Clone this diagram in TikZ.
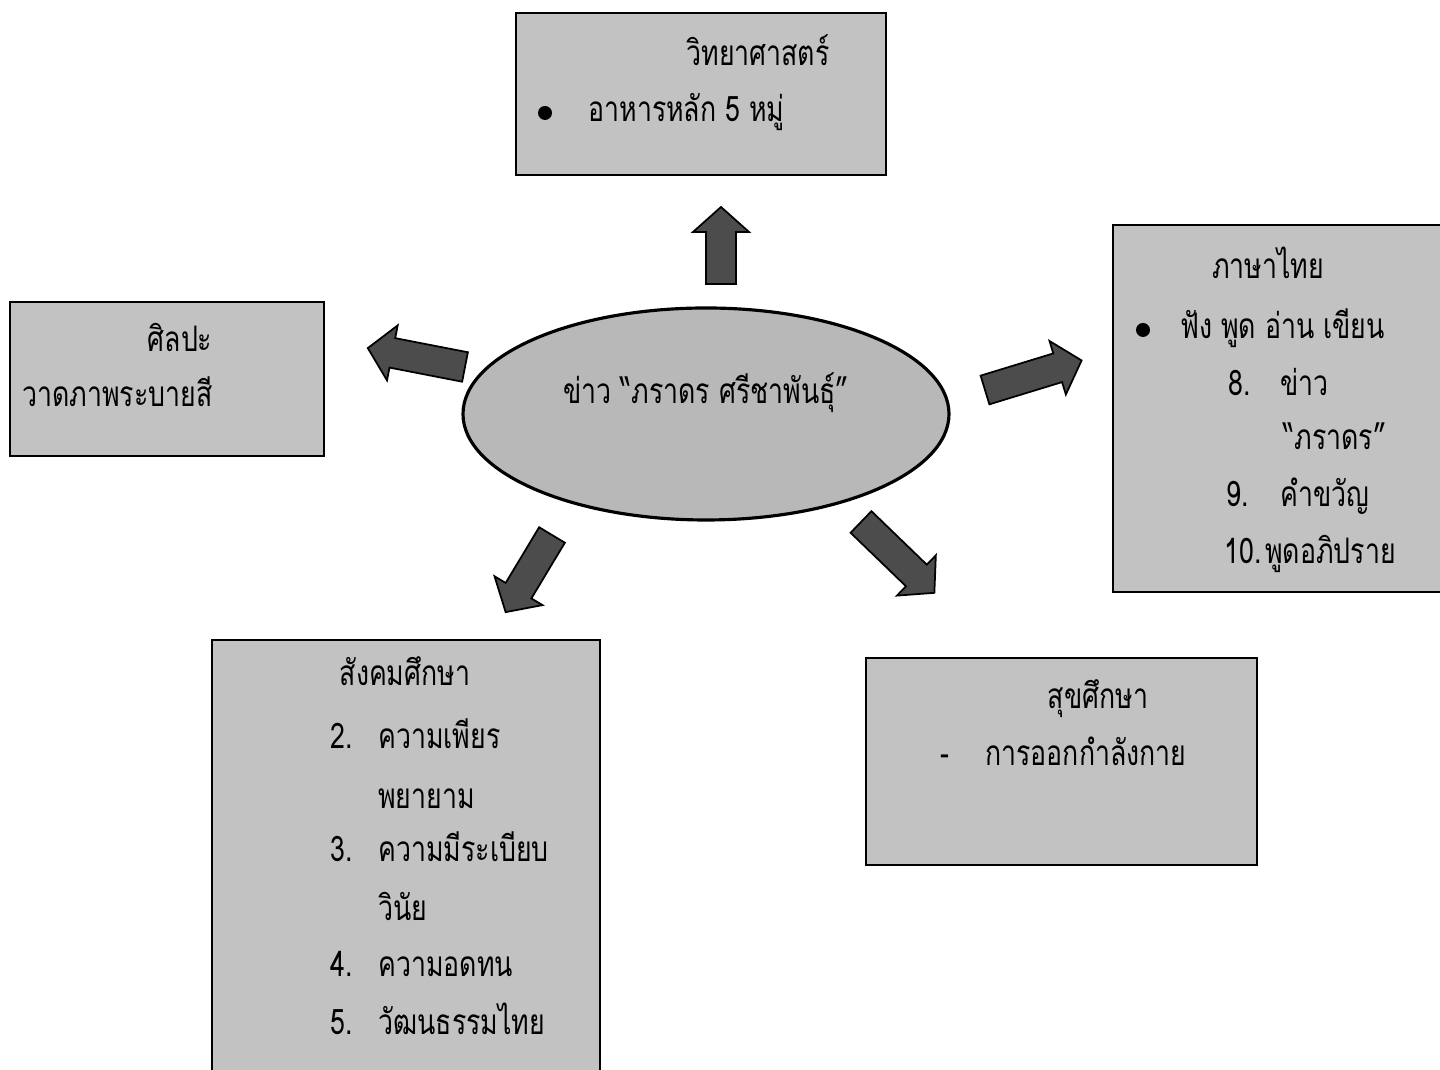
\documentclass[tikz,border=0pt]{standalone}
\usepackage{fontspec}
\newfontfamily\thaifont[Script=Thai, FakeStretch=0.76]{Loma}
\usepackage{tikz}
\usetikzlibrary{shapes.geometric}
\definecolor{boxgray}{gray}{0.76}
\definecolor{arrowgray}{gray}{0.30}

\tikzset{
  box/.style={draw, line width=0.8pt, fill=boxgray},
  txt/.style={font=\thaifont\fontsize{20}{24}\selectfont, inner sep=0pt, anchor=base west},
  title/.style={txt, anchor=base},
  dotmark/.style={circle, fill=black, inner sep=0pt, minimum size=0.28cm},
  pics/fatarrow/.style={code={
    \filldraw[fill=arrowgray, draw=black, line width=1pt]
      (0,-0.3) -- (#1-0.5,-0.3) -- (#1-0.5,-0.56) -- (#1,0)
      -- (#1-0.5,0.56) -- (#1-0.5,0.3) -- (0,0.3) -- cycle;
  }}
}

\begin{document}
\begin{tikzpicture}
    \clip (0,0) rectangle (28.8,21.4);
    \fill[white] (0,0) rectangle (28.8,21.4);

    % boxes
    \draw[box] (10.32,17.90) rectangle (17.72,21.14);
    \draw[box] (0.20,12.28) rectangle (6.48,15.36);
    \draw[box] (22.26,9.56) rectangle (29.2,16.90);
    \draw[box] (4.24,-0.3) rectangle (12.00,8.60);
    \draw[box] (17.32,4.10) rectangle (25.14,8.24);
    \node[ellipse, draw, line width=1.8pt, fill=boxgray!95!black,
      minimum width=9.72cm, minimum height=4.24cm] (news) at (14.12,13.12) {};

    % arrows
    \pic[rotate=90] at (14.42,15.72) {fatarrow=1.54};
    \pic[rotate=169] at (9.30,14.06) {fatarrow=1.98};
    \pic[rotate=17] at (19.70,13.60) {fatarrow=2.02};
    \pic[rotate=239] at (11.04,10.70) {fatarrow=1.80};
    \pic[rotate=-44] at (17.22,10.96) {fatarrow=2.04};

    % centre
    \node[title] (newsT) at (14.12,13.32) {ข่าว “ภราดร ศรีชาพันธุ์”};

    % science
    \node[title] (sciT) at (15.16,20.08) {วิทยาศาสตร์};
    \node[dotmark] (sciD) at (10.90,19.14) {};
    \node[txt] (sci1) at (11.76,18.96) {อาหารหลัก 5 หมู่};

    % art
    \node[title] (artT) at (3.60,14.36) {ศิลปะ};
    \node[txt] (art1) at (0.44,13.26) {วาดภาพระบายสี};

    % thai
    \node[title] (thaiT) at (25.36,15.82) {ภาษาไทย};
    \node[dotmark] (thaiD) at (22.86,14.80) {};
    \node[txt] (thai1) at (23.60,14.62) {ฟัง พูด อ่าน เขียน};
    \node[txt] (thai2n) at (24.56,13.48) {8.};
    \node[txt] (thai2) at (25.60,13.48) {ข่าว};
    \node[txt] (thai3) at (25.66,12.40) {“ภราดร”};
    \node[txt] (thai4n) at (24.52,11.26) {9.};
    \node[txt] (thai4) at (25.60,11.26) {คำขวัญ};
    \node[txt] (thai5n) at (24.48,10.12) {10.};
    \node[txt] (thai5) at (25.30,10.12) {พูดอภิปราย};

    % social
    \node[title] (socT) at (8.10,7.68) {สังคมศึกษา};
    \node[txt] (soc1n) at (6.60,6.42) {2.};
    \node[txt] (soc1) at (7.56,6.42) {ความเพียร};
    \node[txt] (soc1b) at (7.56,5.22) {พยายาม};
    \node[txt] (soc2n) at (6.60,4.16) {3.};
    \node[txt] (soc2) at (7.56,4.16) {ความมีระเบียบ};
    \node[txt] (soc2b) at (7.56,2.98) {วินัย};
    \node[txt] (soc3n) at (6.60,1.86) {4.};
    \node[txt] (soc3) at (7.56,1.86) {ความอดทน};
    \node[txt] (soc4n) at (6.60,0.70) {5.};
    \node[txt] (soc4) at (7.56,0.70) {วัฒนธรรมไทย};

    % health
    \node[title] (hlT) at (21.96,7.22) {สุขศึกษา};
    \node[txt] (hl1n) at (18.80,6.08) {-};
    \node[txt] (hl1) at (19.70,6.08) {การออกกำลังกาย};
  \end{tikzpicture}
\end{document}
